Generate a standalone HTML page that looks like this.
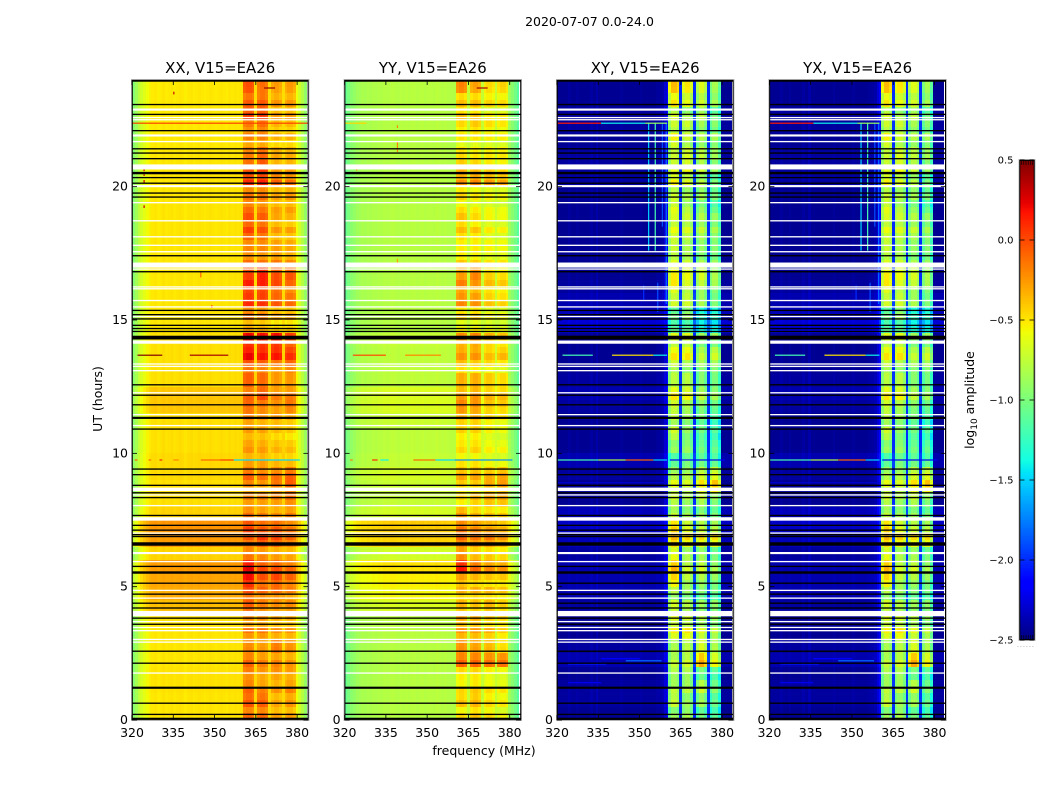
<!DOCTYPE html>
<html lang="en">
<head>
<meta charset="utf-8">
<title>2020-07-07 0.0-24.0</title>
<style>
html,body{margin:0;padding:0;background:#fff;width:1050px;height:800px;overflow:hidden}
svg{display:block}
text{font-family:"DejaVu Sans","Liberation Sans",sans-serif;fill:#000}
</style>
</head>
<body>
<svg id="figure" xmlns="http://www.w3.org/2000/svg" width="1050" height="800" viewBox="0 0 1050 800">
  <text x="589.5" y="26" font-size="12.5" text-anchor="middle">2020-07-07 0.0-24.0</text>
  <text x="484" y="755" font-size="12.5" text-anchor="middle">frequency (MHz)</text>
  <text x="0" y="0" font-size="12.5" text-anchor="middle" transform="translate(102,399) rotate(-90)">UT (hours)</text>
  <text x="0" y="0" font-size="12.5" text-anchor="middle" transform="translate(974,400) rotate(-90)">log<tspan font-size="9" dy="3">10</tspan><tspan dy="-3"> amplitude</tspan></text>
  <g id="panels"></g>
  <g id="colorbar"></g>
</svg>
<script>
const panelTitles = ["XX, V15=EA26", "YY, V15=EA26", "XY, V15=EA26", "YX, V15=EA26"];
const freqTicks = [320, 335, 350, 365, 380];
const hourTicks = [0, 5, 10, 15, 20];
const colorbarTicks = [0.5, 0.0, -0.5, -1.0, -1.5, -2.0, -2.5];
const channelStartMHz = [320,321,322,323,324,325,326,327,328,329,330,331,332,333,334,335,336,337,338,339,340,341,342,343,344,345,346,347,348,349,350,351,352,353,354,355,356,357,358,359,360,360.5,361.5,362.5,363.5,364.5,365.5,366.5,367.5,368.5,369.5,370.5,371.5,372.5,373.5,374.5,375.5,376.5,377.5,378.5,379.5,380.5,381.5,382.5];
const channelGroup = [0,0,0,0,0,0,0,0,0,0,0,0,0,0,0,0,0,0,0,0,0,0,0,0,0,0,0,0,0,0,0,0,0,0,0,0,0,0,0,0,0,1,1,1,1,0,2,2,2,2,0,3,3,3,3,0,4,4,4,4,0,0,0,0];
const bandpassXX = [-.5,-.4,-.3,-.22,-.16,-.11,-.07,-.05,-.04,-.06,-.05,-.03,-.05,-.04,-.03,-.05,-.04,-.03,-.04,-.06,-.04,-.03,-.05,-.04,-.03,-.04,-.05,-.04,-.03,-.04,-.05,-.04,-.03,-.04,-.05,-.03,-.04,-.03,-.04,-.03,-.02,-.12,-.08,-.08,-.12,0,-.13,-.08,-.08,-.13,0,-.13,-.08,-.08,-.13,0,-.13,-.08,-.08,-.14,-.12,-.22,-.33,-.45];
const bandpassYY = [-.23,-.16,-.1,-.06,-.02,-.01,.02,.01,.03,.02,.04,.03,.05,.04,.06,.05,.06,.07,.06,.05,.07,.06,.07,.06,.08,.07,.06,.07,.08,.06,.07,.07,.06,.08,.07,.06,.07,.06,.05,.05,.04,-.05,0,0,-.05,.12,-.05,0,0,-.05,.12,-.05,0,0,-.05,.12,-.05,0,0,-.06,-.02,-.1,-.18,-.28];
const bandpassXY = [0,0,0,0,.03,0,0,.02,0,0,0,0,.04,0,.06,0,0,0,0,0,0,0,0,.02,0,0,0,0,0,0,.02,0,0,0,0,0,.02,.03,.06,.16,.32,-.2,0,0,-.1,.45,-.1,0,0,-.15,.45,-.1,.07,.07,-.08,.45,-.1,.07,.07,-.2,0,0,0,0];
const bandpassYX = bandpassXY;

// Quarter-hour fine structure seen inside the sub-bands, added to each sub-band level.
const subbandStripes = [
.04,-.06,.05,-.03,.06,-.05,-.02,.05,.03,-.08,.04,.02,-.04,.07,-.06,.03,
.02,.08,-.1,.04,-.05,.06,.03,-.07,.05,-.02,-.06,.06,.03,-.05,.07,-.04,
-.03,.06,-.08,.05,.07,-.03,.02,-.06,.08,.02,-.07,.03,-.05,.06,-.04,.02,
.05,-.06,.03,.04,-.07,.05,.06,-.03,-.05,.08,.02,-.06,.04,-.05,.07,.02,
-.08,.05,.03,-.04,.06,-.07,.04,.03,-.05,.07,-.03,.05,.04,-.06,.06,-.02,
.07,-.05,.03,-.06,.05,.02,-.07,.06,-.03,.05,.04,-.08,.06,-.04,.03,.05
];

// Rows cover 0.5 h each, from 0 h to 24 h. Columns: out-of-band, sub-band 1, 2, 3, 4 (log10 amplitude).
const rowsXX = [
[-.46,-.05,-.05,-.22,-.22],[-.46,0,-.02,-.25,-.2],[-.45,-.05,-.15,-.2,-.15],[-.45,-.12,-.2,-.18,-.22],
[-.46,-.02,-.1,-.12,-.18],[-.46,-.15,-.2,-.1,-.18],[-.46,-.12,-.12,-.2,-.22],[-.45,-.15,-.15,-.22,-.25],
[-.33,-.05,-.15,-.2,-.2],[-.27,.05,-.02,-.05,-.12],[-.25,.22,.02,.05,-.05],[-.22,.3,.08,.05,-.03],
[-.4,-.1,-.15,-.22,-.25],[-.22,0,.1,.05,-.05],[-.2,.1,.02,.02,-.08],[-.4,-.1,-.15,-.2,-.15],
[-.44,-.15,-.15,-.15,-.1],[-.44,-.15,-.2,-.1,-.02],[-.42,-.05,-.1,-.1,-.05],[-.42,-.2,-.2,-.28,-.3],
[-.44,-.22,-.25,-.32,-.35],[-.44,-.2,-.22,-.3,-.35],[-.44,-.15,-.2,-.22,-.28],[-.36,-.02,-.08,-.15,-.08],
[-.36,-.03,.05,-.12,-.12],[-.44,-.02,-.05,-.2,-.2],[-.44,.02,-.02,-.1,-.05],[-.44,.25,.2,.2,.12],
[-.44,.22,.2,.2,.05],[-.46,-.22,-.25,-.35,-.35],[-.46,-.08,-.12,-.25,-.25],[-.46,.12,.1,-.02,-.08],
[-.46,.18,.18,.05,-.05],[-.46,.1,.2,.05,.02],[-.46,-.08,-.1,-.12,-.18],[-.46,-.15,-.15,-.22,-.25],
[-.46,.05,0,-.22,-.25],[-.46,.02,-.02,-.25,-.3],[-.46,-.05,-.1,-.22,-.22],[-.46,-.1,-.1,-.25,-.22],
[-.46,.12,.15,-.05,-.1],[-.46,.02,.1,-.2,-.2],[-.46,-.12,-.05,-.25,-.28],[-.47,-.15,-.15,-.3,-.3],
[-.47,-.12,-.08,-.3,-.32],[-.47,.1,.1,-.2,-.2],[-.47,-.02,-.02,-.2,-.22],[-.47,.02,-.08,-.22,-.22]
];
const rowsYY = [
[-.85,-.5,-.42,-.5,-.6],[-.85,-.42,-.38,-.5,-.55],[-.85,-.5,-.45,-.52,-.55],[-.85,-.5,-.48,-.58,-.62],
[-.85,-.1,-.1,-.15,-.15],[-.85,-.25,-.3,-.38,-.5],[-.84,-.3,-.32,-.38,-.48],[-.83,-.3,-.32,-.42,-.45],
[-.72,-.42,-.45,-.42,-.5],[-.62,-.35,-.35,-.38,-.42],[-.6,-.32,-.4,-.45,-.45],[-.55,.15,-.1,-.22,-.25],
[-.75,-.25,-.4,-.45,-.5],[-.5,-.12,-.18,-.2,-.28],[-.48,-.15,-.22,-.3,-.35],[-.74,-.3,-.4,-.45,-.48],
[-.8,-.5,-.4,-.35,-.35],[-.78,-.45,-.45,-.35,-.3],[-.74,-.35,-.35,-.38,-.35],[-.8,-.5,-.5,-.58,-.6],
[-.82,-.52,-.5,-.6,-.62],[-.82,-.45,-.45,-.56,-.6],[-.78,-.38,-.38,-.5,-.55],[-.72,-.2,-.25,-.4,-.42],
[-.72,-.3,-.28,-.38,-.4],[-.82,-.35,-.35,-.45,-.5],[-.82,-.4,-.45,-.5,-.55],[-.82,-.28,-.28,-.42,-.4],
[-.8,-.28,-.25,-.4,-.45],[-.85,-.55,-.55,-.6,-.62],[-.85,-.45,-.45,-.58,-.6],[-.85,-.25,-.28,-.45,-.5],
[-.85,-.2,-.28,-.4,-.45],[-.85,-.28,-.2,-.45,-.5],[-.85,-.45,-.48,-.55,-.55],[-.85,-.55,-.55,-.58,-.6],
[-.85,-.42,-.45,-.58,-.6],[-.85,-.42,-.5,-.6,-.62],[-.85,-.5,-.55,-.6,-.62],[-.85,-.48,-.55,-.6,-.62],
[-.85,-.28,-.25,-.32,-.35],[-.85,-.35,-.38,-.45,-.48],[-.85,-.5,-.55,-.55,-.55],[-.85,-.55,-.55,-.58,-.58],
[-.85,-.5,-.45,-.52,-.55],[-.85,-.4,-.42,-.55,-.55],[-.85,-.42,-.42,-.5,-.52],[-.85,-.22,-.32,-.5,-.48]
];
const rowsXY = [
[-2.45,-.9,-.85,-1.1,-1.2],[-2.42,-.75,-.9,-.95,-1.15],[-2.42,-.8,-.8,-.8,-1.05],[-2.45,-.85,-.85,-1.1,-1.2],
[-2.38,-.75,-.7,-.4,-.65],[-2.42,-.85,-.8,-.75,-.9],[-2.45,-.6,-.55,-.75,-.85],[-2.45,-.65,-.7,-.85,-.95],
[-2.42,-.75,-.85,-1,-1.05],[-2.38,-.8,-.9,-1.05,-1.1],[-2.38,-.5,-.8,-.9,-1],[-2.38,-.35,-.7,-.75,-.9],
[-2.42,-.65,-.85,-.95,-1.1],[-2.35,-.4,-.5,-.6,-.6],[-2.32,-.45,-.65,-.8,-.85],[-2.35,-.8,-.9,-1,-1.1],
[-2.45,-.75,-.85,-.85,-1],[-2.45,-.65,-.7,-.6,-.5],[-2.42,-.85,-.85,-.8,-.75],[-2.38,-1.1,-1,-1.1,-1.15],
[-2.45,-.95,-.95,-1.15,-1.2],[-2.45,-.7,-.9,-1.1,-1.2],[-2.45,-.8,-.9,-1.1,-1.25],[-2.42,-.7,-.8,-1,-1.1],
[-2.38,-.55,-.6,-.85,-.95],[-2.42,-.8,-.8,-1.05,-1.1],[-2.45,-.75,-.85,-.95,-.95],[-2.45,-.55,-.55,-.85,-.8],
[-2.45,-.7,-.7,-1,-1],[-2.28,-1.1,-1.1,-1.4,-1.45],[-2.35,-1.05,-.9,-1.35,-1.35],[-2.38,-.75,-.75,-.95,-1.1],
[-2.42,-.55,-.7,-.85,-.95],[-2.45,-.55,-.6,-.75,-.9],[-2.45,-.7,-.75,-.95,-1],[-2.45,-.75,-.85,-1,-1.05],
[-2.45,-.65,-.7,-.85,-.95],[-2.45,-.7,-.75,-.9,-1],[-2.45,-.65,-.8,-1,-1.15],[-2.45,-.75,-.85,-.95,-1.1],
[-2.42,-.6,-.7,-.9,-1.1],[-2.42,-.65,-.6,-.8,-.95],[-2.42,-.75,-.7,-.85,-.95],[-2.45,-.6,-.75,-.9,-.95],
[-2.42,-.75,-.75,-.95,-1.05],[-2.42,-.7,-.85,-.85,-1.1],[-2.45,-.55,-.65,-.8,-.95],[-2.45,-.4,-.55,-.75,-.95]
];
const rowsYX = rowsXY;

// Flagged time rows: [hour, thickness in hours].
const flagBlack = [[.06,.05],[.21,.05],[.63,.05],[1.21,.08],[2.13,.05],[2.58,.05],[3.59,.05],[3.82,.05],[4.2,.05],[4.38,.05],[4.72,.05],[5.13,.05],[5.53,.09],[5.76,.05],[6.58,.09],[6.64,.05],[6.88,.05],[6.95,.05],[7.12,.05],[7.3,.05],[7.67,.05],[8.34,.05],[8.52,.05],[8.8,.05],[9.2,.05],[9.41,.05],[10.91,.05],[11.33,.08],[11.82,.05],[12.18,.05],[12.57,.05],[14.34,.14],[14.57,.05],[14.68,.05],[14.8,.05],[15.04,.05],[15.2,.05],[15.36,.05],[16.81,.05],[17.41,.05],[19.61,.05],[19.76,.05],[20.13,.05],[20.34,.05],[20.51,.09],[21.05,.05],[21.26,.05],[21.42,.05],[22.1,.05],[22.71,.05],[23.08,.05],[23.97,.07]];
const flagWhite = [[1.76,.05],[2.92,.05],[3.02,.05],[3.35,.05],[3.47,.05],[3.69,.05],[3.99,.2],[4.57,.05],[4.86,.05],[5.94,.05],[6.26,.08],[7.01,.05],[7.54,.13],[8.04,.05],[8.44,.05],[8.65,.13],[11.04,.05],[11.45,.05],[12.27,.05],[13.1,.05],[13.26,.05],[13.35,.05],[14.17,.12],[15.13,.05],[15.49,.05],[15.73,.05],[16.17,.05],[16.24,.05],[16.91,.05],[17.06,.19],[17.56,.05],[17.8,.05],[18.12,.05],[18.72,.05],[19.4,.05],[20.02,.08],[20.74,.19],[21.69,.05],[21.92,.08],[22.51,.05],[22.59,.05],[22.89,.08]];

// Narrow horizontal interference: [hour, start MHz, end MHz, log10 amplitude].
const rfiRowsXX = [[9.75,321,322,-.1],[9.75,326,327,-.15],[9.75,330,331,.1],[9.75,335,337,-.2],[9.75,345,352,-.1],[9.75,352,357,.05],[9.75,357,381,-1.5],[13.68,322,331,.5],[13.68,341,355,.4],[22.38,320,384,.02],[23.7,368,372,.45]];
const rfiRowsYY = [[9.75,322,323,-.2],[9.75,330,332,.1],[9.75,333,336,-1.4],[9.75,345,353,-.1],[9.75,353,360,-1.5],[9.75,360,381,-1.7],[13.68,323,335,0],[13.68,342,355,-.2],[22.38,320,328,-.45],[23.7,368,372,.4]];
const rfiRowsXY = [[9.75,320,335,-1.2],[9.75,335,345,-.8],[9.75,345,355,-.1],[9.75,355,360,-1.5],[9.75,361,381,-2.2],[13.68,322,333,-1.2],[13.68,340,355,-.5],[13.68,355,360,-1.4],[22.38,320,336,.15],[22.38,336,352,-1.4],[22.38,352,360,-.9],[2.22,345,358,-1.8],[2.1,324,338,-2.05],[2.3,336,350,-2.15],[1.4,324,336,-2.2],[8.9,320,360,-2.3]];
const rfiRowsYX = rfiRowsXY;

// Narrow vertical interference and isolated points: [MHz, start hour, end hour, log10 amplitude].
const rfiColsXX = [[335.2,23.46,23.56,.3],[324.4,20.58,20.68,.3],[324.4,20.4,20.46,.3],[324.4,20.15,20.25,.3],[324.4,19.2,19.3,.3],[349,15.45,15.55,.2],[345,16.6,16.8,-.1]];
const rfiColsYY = [[339.2,21.3,21.7,-.2],[339.2,22.2,22.3,-.2],[339.2,17.1,17.3,-.3],[324.4,20.6,20.7,-.2]];
const rfiColsXY = [[353.3,17.6,22.4,-1.5],[355.7,17.6,22.4,-1.2],[358.3,18.5,22.4,-1.9],[359.7,15.6,22.4,-1.8],[356.6,15.3,16.4,-1.9],[351.5,15.7,16.3,-2]];
const rfiColsYX = rfiColsXY;

const SVGNS = "http://www.w3.org/2000/svg";
const panelLeft = [132, 344.6, 557, 769.4];
const panelSpec = [
  {rows: rowsXX, band: bandpassXX, rfiR: rfiRowsXX, rfiC: rfiColsXX},
  {rows: rowsYY, band: bandpassYY, rfiR: rfiRowsYY, rfiC: rfiColsYY},
  {rows: rowsXY, band: bandpassXY, rfiR: rfiRowsXY, rfiC: rfiColsXY},
  {rows: rowsYX, band: bandpassYX, rfiR: rfiRowsYX, rfiC: rfiColsYX}
];
const HOUR_STEP = 0.5;
const STRIPE_STEP = 0.25;
const FREQ_MIN = 320, FREQ_MAX = 384.1, HOUR_MIN = 0, HOUR_MAX = 24;
const AXIS_W = 176.4, AXIS_TOP = 80, AXIS_BOTTOM = 720;
const V_MIN = -2.5, V_MAX = 0.5;

function lerp(stops, t) {
  for (let i = 1; i < stops.length; i++) {
    if (t <= stops[i][0]) {
      const a = stops[i - 1], b = stops[i];
      return a[1] + (b[1] - a[1]) * (t - a[0]) / (b[0] - a[0]);
    }
  }
  return stops[stops.length - 1][1];
}
const JET_R = [[0,0],[.35,0],[.66,1],[.89,1],[1,.5]];
const JET_G = [[0,0],[.125,0],[.375,1],[.64,1],[.91,0],[1,0]];
const JET_B = [[0,.5],[.11,1],[.34,1],[.65,0],[1,0]];
function colorOf(v) {
  const t = Math.max(0, Math.min(1, (v - V_MIN) / (V_MAX - V_MIN)));
  const c = f => Math.round(255 * lerp(f, t));
  return "rgb(" + c(JET_R) + "," + c(JET_G) + "," + c(JET_B) + ")";
}
function xScale(left, mhz) { return left + (mhz - FREQ_MIN) / (FREQ_MAX - FREQ_MIN) * AXIS_W; }
function yScale(hour) { return AXIS_BOTTOM - (hour - HOUR_MIN) / (HOUR_MAX - HOUR_MIN) * (AXIS_BOTTOM - AXIS_TOP); }
function vScale(v) { return 160 + (V_MAX - v) / (V_MAX - V_MIN) * 480; }
function node(tag, parent, attrs) {
  const el = document.createElementNS(SVGNS, tag);
  for (const k in attrs) el.setAttribute(k, attrs[k]);
  parent.appendChild(el);
  return el;
}

const panelsRoot = document.getElementById("panels");
panelSpec.forEach(function (spec, p) {
  const left = panelLeft[p];
  const right = left + AXIS_W;
  const g = node("g", panelsRoot, {});
  
  

  const title = node("text", g, {x: left + AXIS_W / 2, y: 73, "font-size": 14.9, "text-anchor": "middle"});
  
  
  title.textContent = panelTitles[p];

  const heat = node("g", g, {"shape-rendering": "crispEdges"});
  
  
  spec.rows.forEach(function (levels, r) {
    const y0 = Math.round(yScale((r + 1) * HOUR_STEP));
    const y1 = Math.round(yScale(r * HOUR_STEP));
    channelStartMHz.forEach(function (mhz, c) {
      const x0 = Math.round(xScale(left, mhz));
      const x1 = Math.round(xScale(left, Math.min(mhz + 1, FREQ_MAX)));
      const group = channelGroup[c];
      const value = levels[group] + spec.band[c];
      if (group === 0) {
        const cell = node("rect", heat, {x: x0, y: y0, width: x1 - x0, height: y1 - y0, fill: colorOf(value)});
        
        
      } else {
        [0, 1].forEach(function (s) {
          const q = r * 2 + s;
          const cy0 = Math.round(yScale((q + 1) * STRIPE_STEP));
          const cy1 = Math.round(yScale(q * STRIPE_STEP));
          const cell = node("rect", heat, {x: x0, y: cy0, width: x1 - x0, height: cy1 - cy0, fill: colorOf(value + subbandStripes[q])});
          
          
        });
      }
    });
  });

  spec.rfiC.forEach(function (d) {
    const y0 = yScale(d[2]), y1 = yScale(d[1]);
    const m = node("rect", g, {x: xScale(left, d[0]) - .6, y: y0, width: 1.2, height: y1 - y0, fill: colorOf(d[3])});
    
    
  });
  spec.rfiR.forEach(function (d) {
    const x0 = xScale(left, d[1]), x1 = xScale(left, Math.min(d[2], FREQ_MAX));
    const m = node("rect", g, {x: x0, y: yScale(d[0]) - .6, width: x1 - x0, height: 1.2, fill: colorOf(d[3])});
    
    
  });
  flagWhite.forEach(function (d) {
    const h = d[1] * 26.66;
    const m = node("rect", g, {x: left, y: yScale(d[0]) - h / 2, width: AXIS_W, height: h, fill: "#fff"});
    
    
  });
  flagBlack.forEach(function (d) {
    const h = d[1] * 26.66;
    const m = node("rect", g, {x: left, y: yScale(d[0]) - h / 2, width: AXIS_W, height: h, fill: "#000"});
    
    
  });

  const outer = node("rect", g, {x: left - .5, y: AXIS_TOP - .5, width: AXIS_W + 1, height: AXIS_BOTTOM - AXIS_TOP + 1, fill: "none", stroke: "#b4b4b4", "stroke-width": 1});
  
  
  const frame = node("rect", g, {x: left + .3, y: AXIS_TOP + .4, width: AXIS_W - .6, height: AXIS_BOTTOM - AXIS_TOP - 1, fill: "none", stroke: "#000", "stroke-width": 1});
  
  

  freqTicks.forEach(function (f) {
    const x = xScale(left, f);
    const t1 = node("line", g, {x1: x, x2: x, y1: AXIS_BOTTOM, y2: AXIS_BOTTOM - 5, stroke: "#000", "stroke-width": .8});
    
    
    const t2 = node("line", g, {x1: x, x2: x, y1: AXIS_TOP, y2: AXIS_TOP + 5, stroke: "#000", "stroke-width": .8});
    
    
    const lab = node("text", g, {x: x, y: 737, "font-size": 12.5, "text-anchor": "middle"});
    
    
    lab.textContent = f;
  });
  hourTicks.forEach(function (h) {
    const y = yScale(h);
    const t1 = node("line", g, {x1: left, x2: left + 5, y1: y, y2: y, stroke: "#000", "stroke-width": .8});
    
    
    const t2 = node("line", g, {x1: right, x2: right - 5, y1: y, y2: y, stroke: "#000", "stroke-width": .8});
    
    
    const lab = node("text", g, {x: left - 4, y: y + 4, "font-size": 12.5, "text-anchor": "end"});
    
    
    lab.textContent = h;
  });
});

const cb = document.getElementById("colorbar");
const CB_L = 1020, CB_R = 1034;
for (let v = V_MAX; v > V_MIN; v -= 0.0125) {
  const y0 = vScale(v);
  const s = node("rect", cb, {x: CB_L, y: y0, width: CB_R - CB_L, height: 2.3, fill: colorOf(v - 0.00625)});
  
  
}
const cbShadow = node("rect", cb, {x: 1019, y: 159.5, width: 16, height: 481, fill: "none", stroke: "#b4b4b4", "stroke-width": 1});


const cbFrame = node("rect", cb, {x: 1019.8, y: 160.4, width: 14.4, height: 479.2, fill: "none", stroke: "#000", "stroke-width": 1});


colorbarTicks.forEach(function (v) {
  const y = vScale(v);
  const t1 = node("line", cb, {x1: CB_L, x2: CB_L + 4.5, y1: y, y2: y, stroke: "#000", "stroke-width": .8});
  
  
  const t2 = node("line", cb, {x1: CB_R, x2: CB_R - 4.5, y1: y, y2: y, stroke: "#000", "stroke-width": .8});
  
  
  const lab = node("text", cb, {x: 1013.5, y: y + 3.5, "font-size": 10, "text-anchor": "end"});
  
  
  lab.textContent = v.toFixed(1).replace("-", "\u2212");
});
for (let i = 0; i < 6; i++) {
  const x = CB_L + 1.6 + i * 2.2;
  const t1 = node("line", cb, {x1: x, x2: x, y1: 160, y2: 165, stroke: "#000", "stroke-width": .6});
  
  
  const t2 = node("line", cb, {x1: x, x2: x, y1: 640, y2: 635, stroke: "#000", "stroke-width": .6});
  
  
}
const cbDots = node("text", cb, {x: 1017, y: 647, "font-size": 6, "letter-spacing": 1.1});


cbDots.setAttribute('style', 'fill:#777');
cbDots.textContent = "......";
</script>
</body>
</html>
